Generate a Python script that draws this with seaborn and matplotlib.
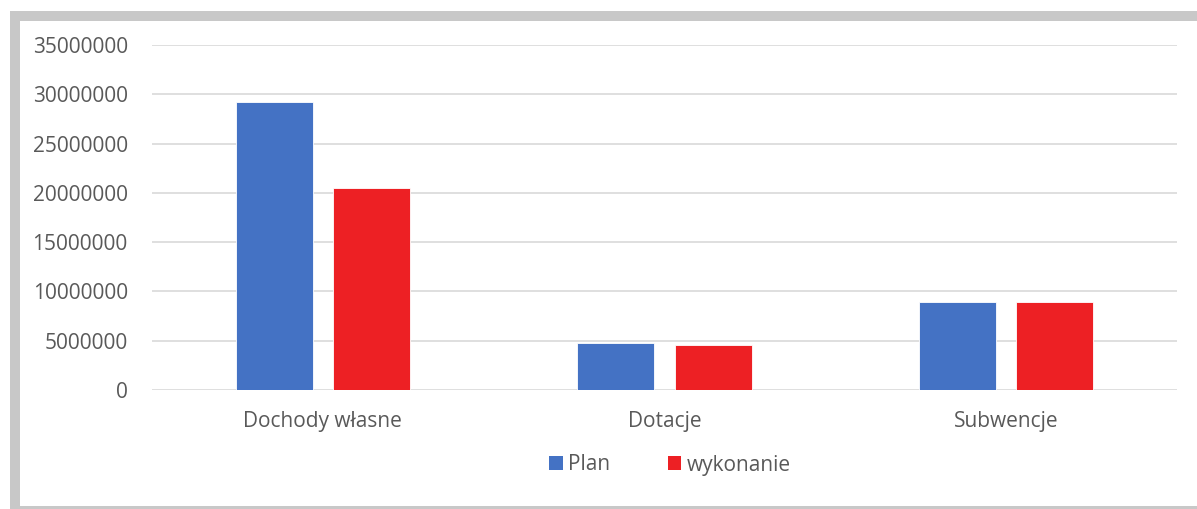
import matplotlib
matplotlib.use("Agg")
import matplotlib.pyplot as plt
from matplotlib.patches import Rectangle
import pandas as pd
import seaborn as sns

categories = ["Dochody własne", "Dotacje", "Subwencje"]
plan = [29250000, 4800000, 8930000]
wykonanie = [20460000, 4600000, 8930000]
series_names = ["Plan", "wykonanie"]
colors = ["#4472C4", "#ED2024"]
yticks = [0, 5000000, 10000000, 15000000, 20000000, 25000000, 30000000, 35000000]

df = pd.DataFrame({
    "kategoria": categories * 2,
    "seria": [series_names[0]] * 3 + [series_names[1]] * 3,
    "wartosc": plan + wykonanie,
})

sns.set_theme(style="white")
plt.rcParams["font.family"] = ["Open Sans", "DejaVu Sans"]

W, H = 1197, 509
fig = plt.figure(figsize=(W / 100, H / 100), dpi=100)

# grey frame around the chart area
fig.patches.append(Rectangle((10 / W, 0), 1.0, (H - 11) / H, transform=fig.transFigure,
                             facecolor="#C8C8C8", edgecolor="none", zorder=-3))
fig.patches.append(Rectangle((20 / W, 3 / H), 1.0, (H - 21 - 3) / H, transform=fig.transFigure,
                             facecolor="white", edgecolor="none", zorder=-2))

ax = fig.add_axes([152 / W, (H - 390) / H, (1177 - 152) / W, (390 - 45) / H])
ax.set_facecolor("none")

sns.barplot(data=df, x="kategoria", y="wartosc", hue="seria", palette=colors,
            saturation=1, width=0.57, gap=0.21, edgecolor="white", linewidth=0.6,
            legend=False, ax=ax, zorder=3)

ax.set_xlim(-0.5, 2.5)
ax.set_ylim(0, 35000000)
ax.set_yticks(yticks)
ax.set_yticklabels([str(v) for v in yticks])
ax.yaxis.grid(True, color="#D9D9D9", linewidth=1.2, zorder=0)
ax.set_axisbelow(True)
for s in ax.spines.values():
    s.set_visible(False)
ax.set_xlabel("")
ax.set_ylabel("")
ax.tick_params(axis="both", length=0, labelsize=15, colors="#595959")
ax.tick_params(axis="y", pad=17.5)
ax.tick_params(axis="x", pad=15)

handles = [Rectangle((0, 0), 1, 1, facecolor=c, edgecolor="none") for c in colors]
fig.legend(handles, series_names, loc="center", bbox_to_anchor=(670 / W, (H - 465) / H),
           ncol=2, frameon=False, fontsize=15, labelcolor="#595959",
           handlelength=0.65, handleheight=0.65, handletextpad=0.25, columnspacing=2.75)

fig.savefig("out.png", dpi=100, facecolor="white")
